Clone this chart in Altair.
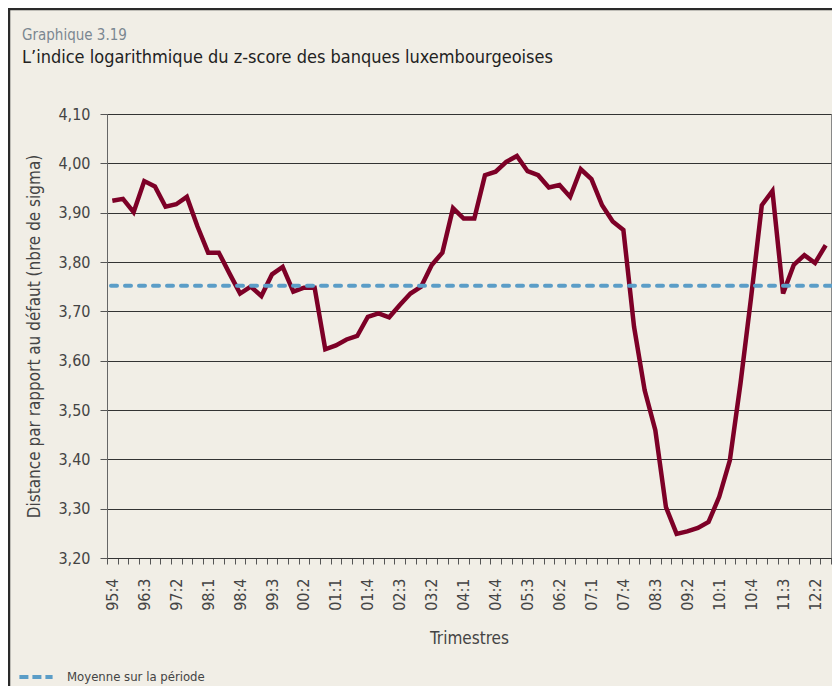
import altair as alt
import pandas as pd

# ---- data ----
QUARTERS = [
    "95:4",
    "96:1", "96:2", "96:3", "96:4",
    "97:1", "97:2", "97:3", "97:4",
    "98:1", "98:2", "98:3", "98:4",
    "99:1", "99:2", "99:3", "99:4",
    "00:1", "00:2", "00:3", "00:4",
    "01:1", "01:2", "01:3", "01:4",
    "02:1", "02:2", "02:3", "02:4",
    "03:1", "03:2", "03:3", "03:4",
    "04:1", "04:2", "04:3", "04:4",
    "05:1", "05:2", "05:3", "05:4",
    "06:1", "06:2", "06:3", "06:4",
    "07:1", "07:2", "07:3", "07:4",
    "08:1", "08:2", "08:3", "08:4",
    "09:1", "09:2", "09:3", "09:4",
    "10:1", "10:2", "10:3", "10:4",
    "11:1", "11:2", "11:3", "11:4",
    "12:1", "12:2", "12:3",
]

ZSCORE = [
    3.924, 3.928, 3.901, 3.964, 3.953, 3.912, 3.917, 3.932, 3.872, 3.819,
    3.819, 3.777, 3.736, 3.750, 3.731, 3.775, 3.790, 3.740, 3.748, 3.748,
    3.623, 3.631, 3.643, 3.650, 3.689, 3.696, 3.688, 3.713, 3.736, 3.750,
    3.794, 3.819, 3.909, 3.888, 3.888, 3.976, 3.983, 4.003, 4.015, 3.984,
    3.976, 3.951, 3.956, 3.932, 3.988, 3.968, 3.915, 3.882, 3.865, 3.669,
    3.540, 3.459, 3.303, 3.249, 3.254, 3.261, 3.273, 3.324, 3.398, 3.554,
    3.729, 3.915, 3.944, 3.736, 3.794, 3.814, 3.798, 3.834,
]

MEAN = [3.752]
MEAN_LABEL = ["Moyenne sur la période"]

TICK_LABELS = ["95:4", "96:3", "97:2", "98:1", "98:4", "99:3", "00:2", "01:1",
               "01:4", "02:3", "03:2", "04:1", "04:4", "05:3", "06:2", "07:1",
               "07:4", "08:3", "09:2", "10:1", "10:4", "11:3", "12:2"]

Y_TICKS = [3.2, 3.3, 3.4, 3.5, 3.6, 3.7, 3.8, 3.9, 4.0, 4.1]

TITLE = "Graphique 3.19"
SUBTITLE = "L\u2019indice logarithmique du z-score des banques luxembourgeoises"
Y_TITLE = "Distance par rapport au défaut (nbre de sigma)"
X_TITLE = "Trimestres"

# ---- style ----
FONT = "Liberation Sans Narrow, DejaVu Sans Condensed, sans-serif"
BG = "#f1eee6"
LINE_COLOR = "#7d0027"
MEAN_COLOR = "#5b9dc7"
TEXT_COLOR = "#444444"

W, H = 724, 444
PAD = {"left": 99, "top": 106, "right": 1, "bottom": 128}

df = pd.DataFrame({"trimestre": QUARTERS, "valeur": ZSCORE})
mean_df = pd.DataFrame({"serie": MEAN_LABEL, "moyenne": MEAN})

label_list = "[" + ",".join("'" + t + "'" for t in TICK_LABELS) + "]"

x_enc = alt.X(
    "trimestre:O",
    sort=QUARTERS,
    bandPosition=0.5,
    scale=alt.Scale(type="band", paddingInner=0, paddingOuter=0),
    axis=alt.Axis(
        title=X_TITLE,
        tickBand="extent",
        labelAngle=-90,
        labelExpr=f"indexof({label_list}, datum.value) >= 0 ? datum.value : ''",
        labelOverlap=False,
        labelFontSize=16,
        labelColor=TEXT_COLOR,
        labelPadding=14,
        tickSize=6,
        tickColor="#555555",
        domainColor="#333333",
        titleFontSize=17,
        titleFontWeight="normal",
        titleColor=TEXT_COLOR,
        titlePadding=20,
        grid=False,
    ),
)

y_enc = alt.Y(
    "valeur:Q",
    scale=alt.Scale(domain=[Y_TICKS[0], Y_TICKS[-1]], nice=False, zero=False),
    axis=alt.Axis(
        values=Y_TICKS,
        labelExpr="replace(format(datum.value, '.2f'), '.', ',')",
        title=Y_TITLE,
        labelFontSize=16,
        labelColor=TEXT_COLOR,
        labelPadding=10,
        tickSize=7,
        tickColor="#555555",
        domainColor="#666666",
        gridColor="#333333",
        gridWidth=1,
        titleFontSize=17,
        titleFontWeight="normal",
        titleColor=TEXT_COLOR,
        titlePadding=14,
    ),
)

line = alt.Chart(df).mark_line(color=LINE_COLOR, strokeWidth=4.5, strokeJoin="miter").encode(
    x=x_enc, y=y_enc
)

mean_rule = alt.Chart(mean_df).mark_rule(strokeWidth=4, strokeDash=[6, 8], strokeCap="round").encode(
    y=alt.Y("moyenne:Q"),
    color=alt.Color(
        "serie:N",
        scale=alt.Scale(range=[MEAN_COLOR]),
        legend=alt.Legend(
            title=None,
            orient="none",
            legendX=-90,
            legendY=544,
            symbolType="stroke",
            symbolStrokeWidth=4,
            symbolDash=[9, 4],
            symbolSize=1100,
            labelFontSize=13,
            labelColor=TEXT_COLOR,
            labelOffset=12,
            labelFont=FONT,
        ),
    ),
)

deco = pd.DataFrame({"d": [0]})
border_left = alt.Chart(deco).mark_rule(color="#2a2a2a", strokeWidth=2.5).encode(
    x=alt.value(-98), y=alt.value(-106), y2=alt.value(H + PAD["bottom"])
)
border_top = alt.Chart(deco).mark_rule(color="#2a2a2a", strokeWidth=2.5).encode(
    y=alt.value(-105), x=alt.value(-99), x2=alt.value(W + PAD["right"])
)

chart = (
    alt.layer(border_left, border_top, line, mean_rule)
    .properties(
        width=W,
        height=H,
        autosize=alt.AutoSizeParams(type="none"),
        padding=PAD,
        title=alt.TitleParams(
            text=TITLE,
            subtitle=SUBTITLE,
            anchor="start",
            frame="group",
            dx=-85,
            offset=-60,
            fontSize=15,
            fontWeight="normal",
            color="#7b8791",
            subtitleFontSize=18,
            subtitleColor="#222222",
            subtitlePadding=6,
            font=FONT,
            subtitleFont=FONT,
        ),
    )
    .configure(background=BG, font=FONT)
    .configure_view(stroke="#888888", strokeWidth=1)
)

chart.save("out.html", embed_options={"renderer": "svg", "actions": False})
